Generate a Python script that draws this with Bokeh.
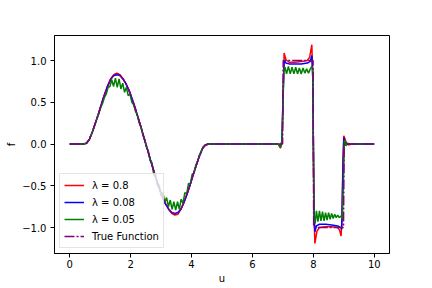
from bokeh.plotting import figure
from bokeh.models import FixedTicker, Range1d, Legend, LegendItem
from bokeh.embed import file_html
from bokeh.resources import INLINE

# ---------------- data ----------------
# True function
true_u = [0.0, 0.45, 0.55, 0.65, 0.75, 0.85, 0.95, 1.05, 1.15, 1.25, 1.35, 1.45, 1.55,
          1.65, 1.75, 1.85, 1.95, 2.05, 2.15, 2.25, 2.35, 2.45, 2.55, 2.65, 2.75, 2.85,
          2.95, 3.05, 3.15, 3.25, 3.35, 3.45, 3.55, 3.65, 3.75, 3.85, 3.95, 4.05, 4.15,
          4.25, 4.35, 4.45, 4.55, 6.99, 7.01, 7.99, 8.01, 8.99, 9.01, 10.0]
true_f = [0.0, 0.0, 0.01, 0.06, 0.15, 0.26, 0.37, 0.49, 0.60, 0.70, 0.78, 0.83, 0.84,
          0.82, 0.78, 0.72, 0.64, 0.54, 0.43, 0.31, 0.19, 0.06, -0.06, -0.19, -0.31, -0.43,
          -0.54, -0.64, -0.72, -0.78, -0.82, -0.84, -0.83, -0.78, -0.70, -0.60, -0.49, -0.37, -0.26,
          -0.15, -0.06, -0.01, 0.0, 0.0, 1.0, 1.0, -1.0, -1.0, 0.0, 0.0]

# lambda = 0.8 (red)
red_u = [0.0, 0.45, 0.55, 0.65, 0.75, 0.85, 0.95, 1.05, 1.15, 1.25, 1.35, 1.45, 1.55,
         1.65, 1.75, 1.85, 1.95, 2.05, 2.15, 2.25, 2.35, 2.45, 2.55, 2.65, 2.75, 2.85,
         2.95, 3.05, 3.15, 3.25, 3.35, 3.45, 3.55, 3.65, 3.75, 3.85, 3.95, 4.05, 4.15,
         4.25, 4.35, 4.45, 4.55, 6.85, 6.92, 6.97, 7.0, 7.04, 7.10, 7.2, 7.4, 7.6, 7.8,
         7.88, 7.95, 7.98, 8.0, 8.02, 8.05, 8.12, 8.2, 8.4, 8.6, 8.8, 8.86, 8.91, 8.94,
         8.97, 9.0, 9.05, 9.1, 9.16, 9.25, 10.0]
red_f = [0.0, 0.0, 0.01, 0.06, 0.15, 0.26, 0.37, 0.49, 0.60, 0.70, 0.78, 0.83, 0.85,
         0.83, 0.78, 0.72, 0.64, 0.54, 0.43, 0.31, 0.19, 0.06, -0.06, -0.19, -0.31, -0.43,
         -0.54, -0.64, -0.72, -0.78, -0.83, -0.85, -0.84, -0.78, -0.70, -0.60, -0.49, -0.37, -0.26,
         -0.15, -0.06, -0.01, 0.0, 0.0, -0.05, 0.05, 0.5, 1.09, 1.01, 0.98, 0.98, 0.99, 1.0,
         1.04, 1.19, 0.8, 0.0, -0.8, -1.19, -1.04, -1.0, -0.99, -0.99, -1.0, -1.03, -1.1, -0.9,
         -0.2, 0.1, 0.05, 0.0, -0.01, 0.0, 0.0]

# lambda = 0.08 (blue)
blue_u = [0.0, 0.45, 0.55, 0.65, 0.75, 0.85, 0.95, 1.05, 1.15, 1.25, 1.35, 1.45, 1.55,
          1.65, 1.75, 1.85, 1.95, 2.05, 2.15, 2.25, 2.35, 2.45, 2.55, 2.65, 2.75, 2.85,
          2.95, 3.05, 3.15, 3.25, 3.35, 3.45, 3.55, 3.65, 3.75, 3.85, 3.95, 4.05, 4.15,
          4.25, 4.35, 4.45, 4.55, 6.85, 6.92, 6.97, 7.0, 7.04, 7.10, 7.2, 7.4, 7.6, 7.8,
          7.9, 7.95, 7.98, 8.0, 8.02, 8.05, 8.1, 8.2, 8.4, 8.6, 8.8, 8.9, 8.93,
          8.96, 9.0, 9.04, 9.1, 10.0]
blue_f = [0.0, 0.0, 0.01, 0.06, 0.15, 0.26, 0.37, 0.49, 0.60, 0.70, 0.78, 0.82, 0.83,
          0.82, 0.78, 0.72, 0.64, 0.54, 0.43, 0.31, 0.19, 0.06, -0.06, -0.19, -0.31, -0.43,
          -0.54, -0.64, -0.72, -0.78, -0.82, -0.83, -0.82, -0.78, -0.70, -0.60, -0.49, -0.37, -0.26,
          -0.15, -0.06, -0.01, 0.0, 0.0, -0.03, 0.03, 0.5, 1.0, 0.97, 0.96, 0.96, 0.96, 0.97,
          0.99, 1.06, 0.8, 0.0, -0.8, -1.05, -0.98, -0.96, -0.96, -0.97, -0.98, -1.0, -1.02,
          -0.5, 0.08, 0.02, 0.0, 0.0]

# lambda = 0.05 (green)
green_u = [0.0, 0.45, 0.55, 0.65, 0.75, 0.85, 0.95, 1.02, 1.08, 1.14, 1.20, 1.26, 1.32,
           1.38, 1.44, 1.50, 1.56, 1.62, 1.68, 1.74, 1.80, 1.86, 1.92, 1.98, 2.04, 2.10,
           2.16, 2.22, 2.28, 2.34, 2.40, 2.46, 2.52, 2.58, 2.64, 2.70, 2.76, 2.82, 2.88,
           2.94, 3.00, 3.06, 3.12, 3.18, 3.24, 3.30, 3.36, 3.42, 3.48, 3.54, 3.60, 3.66,
           3.72, 3.78, 3.84, 3.90, 3.96, 4.02, 4.08, 4.14, 4.20, 4.26, 4.32, 4.38, 4.44,
           4.55, 6.85, 6.92, 6.97, 7.0, 7.03, 7.07, 7.12, 7.18, 7.24, 7.30, 7.36, 7.42,
           7.48, 7.54, 7.60, 7.66, 7.72, 7.78, 7.84, 7.90, 7.95, 7.98, 8.0, 8.02, 8.06,
           8.10, 8.15, 8.20, 8.25, 8.30, 8.35, 8.40, 8.45, 8.50, 8.55, 8.60, 8.65, 8.70,
           8.75, 8.80, 8.85, 8.92, 8.95, 8.98, 9.02, 9.07, 9.12, 9.2, 10.0]
green_f = [0.0, 0.0, 0.01, 0.06, 0.15, 0.26, 0.36, 0.44, 0.49, 0.56, 0.60, 0.68, 0.69,
           0.77, 0.69, 0.79, 0.68, 0.78, 0.66, 0.73, 0.62, 0.68, 0.58, 0.60, 0.50, 0.47,
           0.39, 0.35, 0.25, 0.21, 0.11, 0.06, -0.04, -0.08, -0.20, -0.22, -0.37, -0.36, -0.50,
           -0.49, -0.62, -0.58, -0.70, -0.64, -0.75, -0.67, -0.78, -0.69, -0.79, -0.69, -0.78, -0.66,
           -0.71, -0.58, -0.60, -0.47, -0.48, -0.36, -0.35, -0.25, -0.21, -0.13, -0.09, -0.03, -0.02,
           0.0, 0.0, -0.04, 0.02, 0.45, 0.88, 0.92, 0.84, 0.93, 0.84, 0.92, 0.84, 0.92,
           0.84, 0.91, 0.84, 0.91, 0.85, 0.90, 0.85, 0.90, 0.93, 0.9, 0.0, -0.90, -0.95,
           -0.80, -0.93, -0.80, -0.92, -0.81, -0.92, -0.82, -0.91, -0.82, -0.90, -0.83, -0.89, -0.84,
           -0.88, -0.85, -0.88, -0.86, -0.90, -0.5, 0.05, -0.02, 0.01, 0.0, 0.0]

x_ticks = [0, 2, 4, 6, 8, 10]
y_ticks = [-1.0, -0.5, 0.0, 0.5, 1.0]
y_tick_labels = ["\u22121.0", "\u22120.5", "0.0", "0.5", "1.0"]
legend_labels = ["\u03bb = 0.8", "\u03bb = 0.08", "\u03bb = 0.05", "True Function"]

FONT = "DejaVu Sans"

p = figure(width=432, height=288, output_backend="svg", toolbar_location=None,
           x_range=Range1d(-0.5, 10.5), y_range=Range1d(-1.31, 1.30),
           min_border_left=54, min_border_right=43, min_border_top=35, min_border_bottom=35)
p.background_fill_color = "white"
p.border_fill_color = "white"
p.outline_line_color = "black"
p.outline_line_width = 1
p.outline_line_alpha = 1
p.xgrid.visible = False
p.ygrid.visible = False

r_red = p.line(red_u, red_f, line_color="#ff0000", line_width=1.5)
r_blue = p.line(blue_u, blue_f, line_color="#0000ff", line_width=1.5)
r_green = p.line(green_u, green_f, line_color="#008000", line_width=1.5)
r_true = p.line(true_u, true_f, line_color="#800080", line_width=1.5, line_dash="10 2 2 2")

for ax in (p.xaxis[0], p.yaxis[0]):
    ax.axis_line_color = "black"
    ax.major_tick_line_color = "black"
    ax.major_tick_out = 4
    ax.major_tick_in = 0
    ax.minor_tick_line_color = None
    ax.major_label_text_font = FONT
    ax.major_label_text_font_size = "10px"
    ax.major_label_text_color = "black"
    ax.axis_label_text_font = FONT
    ax.axis_label_text_font_size = "10px"
    ax.axis_label_text_font_style = "normal"
    ax.axis_label_text_color = "black"

p.xaxis.ticker = FixedTicker(ticks=x_ticks)
p.yaxis.ticker = FixedTicker(ticks=y_ticks)
p.yaxis.major_label_overrides = {t: s for t, s in zip(y_ticks, y_tick_labels)}
p.xaxis.axis_label = "u"
p.yaxis.axis_label = "f"
p.xaxis.major_label_standoff = 2
p.xaxis.axis_label_standoff = 2
p.yaxis.major_label_standoff = 4
p.yaxis.axis_label_standoff = 2

legend = Legend(items=[LegendItem(label=legend_labels[0], renderers=[r_red]),
                       LegendItem(label=legend_labels[1], renderers=[r_blue]),
                       LegendItem(label=legend_labels[2], renderers=[r_green]),
                       LegendItem(label=legend_labels[3], renderers=[r_true])],
                location="bottom_left")
legend.margin = 5
legend.padding = 4
legend.spacing = 3
legend.label_height = 14
legend.glyph_height = 14
legend.glyph_width = 20
legend.label_standoff = 8
legend.label_text_font = FONT
legend.label_text_font_size = "10px"
legend.label_text_color = "black"
legend.border_line_color = "#cccccc"
legend.border_line_width = 1
legend.background_fill_alpha = 0.8
p.add_layout(legend)

open("out.html", "w").write(file_html(p, INLINE))
